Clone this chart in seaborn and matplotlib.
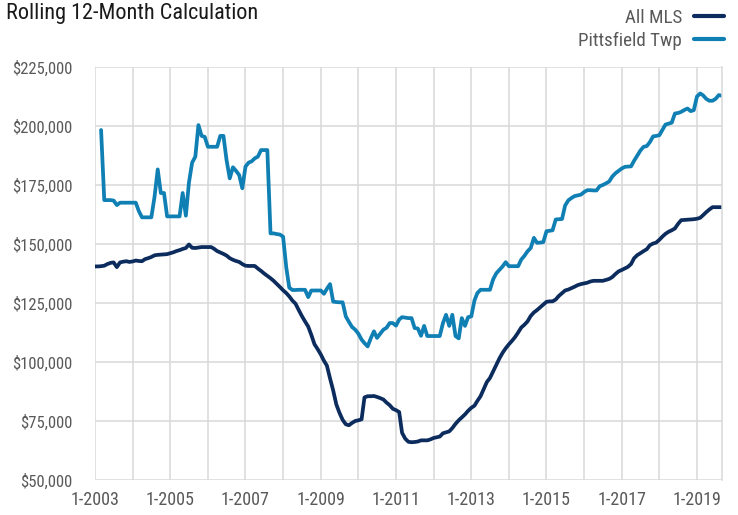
#!/usr/bin/env python
# -*- coding: utf-8 -*-

"""Rolling 12-month median price: All MLS vs. Pittsfield Twp."""

import numpy as np
import pandas as pd
import seaborn as sns
import matplotlib.pyplot as plt
import matplotlib.dates as mdates
from matplotlib.ticker import FuncFormatter

# %% Data (in $1,000, one value per month, Jan 2003 .. Sep 2019).

start_month = "2003-01-01"

all_mls = [
    140.5, 140.5, 140.6, 140.8, 141.5, 142.0, 142.2, 140.2, 142.2, 142.5, 142.7, 142.4,  # 2003
    142.6, 143.0, 142.8, 142.7, 143.6, 144.0, 144.5, 145.2, 145.4, 145.5, 145.6, 145.7,  # 2004
    146.1, 146.5, 147.0, 147.4, 147.9, 148.3, 149.8, 148.4, 148.3, 148.5, 148.7, 148.7,  # 2005
    148.7, 148.7, 148.0, 147.0, 146.4, 145.8, 145.1, 144.0, 143.3, 142.8, 142.4, 141.5,  # 2006
    140.8, 140.7, 140.7, 140.7, 139.6, 138.6, 137.5, 136.5, 135.5, 134.4, 133.1, 131.8,  # 2007
    130.4, 129.2, 127.8, 126.0, 124.7, 122.0, 119.5, 117.2, 115.0, 111.5, 107.5, 105.5,  # 2008
    103.2, 100.5, 98.5, 93.0, 88.0, 82.0, 78.5, 75.5, 73.6, 73.2, 74.2, 75.0,  # 2009
    75.3, 75.7, 85.0, 85.5, 85.5, 85.6, 85.2, 84.7, 84.1, 82.8, 81.7, 80.2,  # 2010
    79.6, 78.8, 70.0, 67.5, 66.2, 66.0, 66.1, 66.3, 66.8, 66.8, 66.8, 67.2,  # 2011
    67.8, 68.1, 68.4, 69.8, 70.2, 70.6, 72.0, 73.8, 75.3, 76.5, 77.8, 79.3,  # 2012
    80.6, 81.5, 83.5, 85.5, 88.5, 91.5, 93.2, 96.0, 98.8, 101.5, 103.9, 105.8,  # 2013
    107.5, 109.0, 110.5, 112.5, 114.6, 115.8, 117.2, 119.5, 121.0, 122.0, 123.2, 124.4,  # 2014
    125.5, 125.7, 125.7, 126.5, 128.0, 129.2, 130.3, 130.7, 131.3, 131.9, 132.6, 133.0,  # 2015
    133.3, 133.6, 134.1, 134.4, 134.4, 134.4, 134.4, 134.8, 135.2, 136.0, 137.3, 138.4,  # 2016
    139.0, 139.7, 140.3, 141.5, 144.0, 145.3, 146.1, 147.0, 147.8, 149.5, 150.2, 150.6,  # 2017
    151.8, 153.2, 154.3, 155.2, 155.8, 156.6, 158.5, 160.1, 160.2, 160.3, 160.4, 160.5,  # 2018
    160.7, 161.1, 162.2, 163.5, 164.6, 165.6, 165.6, 165.6, 165.6,  # 2019
]

pittsfield = [
    np.nan, np.nan, 198.3, 168.6, 168.6, 168.6, 168.4, 166.5, 167.5, 167.5, 167.5, 167.5,  # 2003
    167.5, 167.5, 164.0, 161.3, 161.3, 161.3, 161.3, 170.0, 181.6, 171.6, 171.6, 161.7,  # 2004
    161.7, 161.7, 161.7, 161.7, 171.6, 162.0, 176.0, 184.5, 187.0, 200.4, 195.8, 195.4,  # 2005
    191.2, 191.2, 191.2, 191.2, 195.8, 195.8, 185.6, 177.8, 182.5, 181.0, 179.2, 173.6,  # 2006
    182.8, 184.5, 185.0, 186.3, 187.0, 189.8, 189.8, 189.8, 154.5, 154.5, 154.2, 154.0,  # 2007
    153.1, 140.0, 131.5, 130.5, 130.5, 130.6, 130.6, 130.6, 127.5, 130.3, 130.3, 130.3,  # 2008
    130.3, 128.9, 131.0, 133.0, 125.6, 125.4, 125.3, 125.3, 119.3, 117.0, 114.8, 113.7,  # 2009
    112.0, 109.5, 108.0, 106.6, 110.0, 113.0, 110.2, 112.0, 113.7, 114.5, 116.5, 116.5,  # 2010
    115.4, 118.0, 119.0, 118.8, 118.6, 118.6, 114.4, 114.2, 111.1, 115.3, 111.0, 111.0,  # 2011
    111.0, 111.0, 111.0, 116.5, 120.0, 115.3, 120.0, 111.0, 110.0, 118.6, 115.3, 119.0,  # 2012
    119.3, 126.1, 129.2, 130.6, 130.6, 130.6, 130.6, 135.0, 137.6, 139.0, 140.5, 142.3,  # 2013
    140.6, 140.6, 140.6, 140.6, 143.4, 145.0, 146.9, 148.3, 152.6, 150.5, 150.6, 150.8,  # 2014
    155.4, 155.6, 155.8, 160.4, 160.5, 160.6, 166.3, 168.5, 169.5, 170.3, 170.6, 170.9,  # 2015
    172.0, 172.8, 172.8, 172.7, 172.7, 174.5, 175.0, 175.7, 176.5, 178.6, 180.0, 181.0,  # 2016
    182.0, 182.7, 182.8, 182.9, 185.3, 187.5, 189.6, 191.2, 191.5, 193.2, 195.6, 195.8,  # 2017
    196.1, 198.5, 200.6, 201.0, 201.4, 205.3, 205.5, 206.0, 206.8, 207.4, 206.3, 206.7,  # 2018
    212.5, 213.8, 213.0, 211.5, 210.7, 210.7, 211.5, 213.1, 212.8,  # 2019
]

series_names = ["All MLS", "Pittsfield Twp"]
series_colors = ["#0c2c5e", "#0f7fb4"]
y_ticks = [50000, 75000, 100000, 125000, 150000, 175000, 200000, 225000]

# %% Build a long table for seaborn.

months = pd.date_range(start_month, periods=len(all_mls), freq="MS")
wide = pd.DataFrame({series_names[0]: all_mls, series_names[1]: pittsfield}, index=months) * 1000
long_df = wide.reset_index(names="month").melt(id_vars="month", var_name="area", value_name="price")

# %% Plot.

sns.set_theme(style="whitegrid")
plt.rcParams["font.family"] = ["Roboto Condensed", "Liberation Sans Narrow",
                               "Liberation Sans", "DejaVu Sans"]

grid_color = "#d9d9d9"
text_color = "#595959"

fig = plt.figure(figsize=(7.38, 5.15), dpi=100)
ax = fig.add_axes([95 / 738, 35 / 515, 627 / 738, 413 / 515])

sns.lineplot(
    data=long_df, x="month", y="price", hue="area", hue_order=series_names,
    palette=dict(zip(series_names, series_colors)), linewidth=2.7, legend=False, ax=ax,
)

ax.set_xlim(months[0], months[-1])
ax.set_ylim(y_ticks[0], y_ticks[-1])
ax.set_yticks(y_ticks)
ax.yaxis.set_major_formatter(FuncFormatter(lambda v, _: f"${v:,.0f}"))
ax.xaxis.set_major_locator(mdates.YearLocator(1))
ax.xaxis.set_major_formatter(FuncFormatter(
    lambda v, _: f"1-{mdates.num2date(v).year}" if mdates.num2date(v).year % 2 == 1 else ""))

ax.set_xlabel("")
ax.set_ylabel("")
ax.grid(True, color=grid_color, linewidth=1.1)
for side in ["top", "left", "bottom"]:
    ax.spines[side].set_visible(False)
ax.spines["right"].set_color(grid_color)
ax.spines["right"].set_linewidth(1.1)

ax.tick_params(axis="x", length=5, width=1.1, color=grid_color, pad=3,
               labelsize=13, labelcolor=text_color)
ax.tick_params(axis="y", length=5.8, width=1.1, color=grid_color, pad=10.5,
               labelsize=12, labelcolor=text_color)

fig.text(6 / 738, 1 - 13 / 515, "Rolling 12-Month Calculation", fontsize=16,
         color="#1a1a1a", va="center", ha="left")

fig.legend(
    handles=ax.lines[:2], labels=series_names, loc="upper right",
    bbox_to_anchor=(724 / 738, 1 - 9 / 515), frameon=False, markerfirst=False,
    fontsize=13.7, labelcolor=text_color, handlelength=1.6, handletextpad=0.6,
    labelspacing=0.25, borderaxespad=0, borderpad=0,
)
for line in fig.legends[0].get_lines():
    line.set_linewidth(3)

fig.savefig("out.png", dpi=100)
